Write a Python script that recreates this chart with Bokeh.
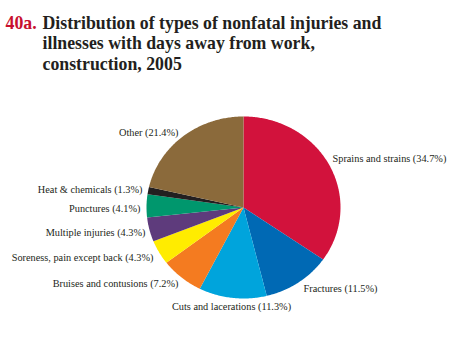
import numpy as np
from bokeh.plotting import figure
from bokeh.models import Range1d, Label
from bokeh.embed import file_html
from bokeh.resources import INLINE

# ---- data ----
categories = ["Sprains and strains", "Fractures", "Cuts and lacerations",
              "Bruises and contusions", "Soreness, pain except back",
              "Multiple injuries", "Punctures", "Heat & chemicals", "Other"]
percents = [34.7, 11.5, 11.3, 7.2, 4.3, 4.3, 4.1, 1.3, 21.4]
colors = ["#D2123C", "#0069B4", "#00A4DC", "#F47B20", "#FFEC00",
          "#5E3B7C", "#00976D", "#231F20", "#8B6A3B"]

# ---- layout ----
W, H = 452, 340
cx, cy, rx, ry = 243, 207, 97, 91
label_pos = [(332, 158, "left"), (303, 288, "left"), (231, 306, "center"),
             (178, 283, "right"), (153, 257, "right"), (145, 232, "right"),
             (140, 208, "right"), (142, 189, "right"), (178, 132, "right")]

p = figure(width=W, height=H, output_backend="svg", toolbar_location=None,
           x_range=Range1d(0, W), y_range=Range1d(H, 0), min_border=0)
p.axis.visible = False
p.grid.visible = False
p.outline_line_color = None
p.background_fill_color = "white"
p.border_fill_color = "white"

total = sum(percents)
ends = np.cumsum(percents) / total * 2 * np.pi
starts = np.concatenate([[0], ends[:-1]])
xs, ys = [], []
for a0, a1 in zip(starts, ends):
    t = np.linspace(a0, a1, max(8, int((a1 - a0) * 80)))
    xs.append([cx] + list(cx + rx * np.sin(t)) + [cx])
    ys.append([cy] + list(cy - ry * np.cos(t)) + [cy])
p.patches(xs=xs, ys=ys, fill_color=colors, line_color=None)

texts = [f"{c} ({v}%)" for c, v in zip(categories, percents)]
for txt, (x, y, al) in zip(texts, label_pos):
    p.add_layout(Label(x=x, y=y, text=txt, text_font="Liberation Serif",
                       text_font_size="10.3px", text_color="#231F20",
                       text_align=al, text_baseline="middle"))

title_lines = ["Distribution of types of nonfatal injuries and",
               "illnesses with days away from work,",
               "construction, 2005"]
p.add_layout(Label(x=5, y=22, text="40a.", text_font="Liberation Serif",
                   text_font_size="17.8px", text_font_style="bold",
                   text_color="#C8102E", text_baseline="middle"))
for i, line in enumerate(title_lines):
    p.add_layout(Label(x=42, y=22 + 20.5 * i, text=line, text_font="Liberation Serif",
                       text_font_size="17.8px", text_font_style="bold",
                       text_color="#231F20", text_baseline="middle"))

open("out.html", "w").write(file_html(p, INLINE))
